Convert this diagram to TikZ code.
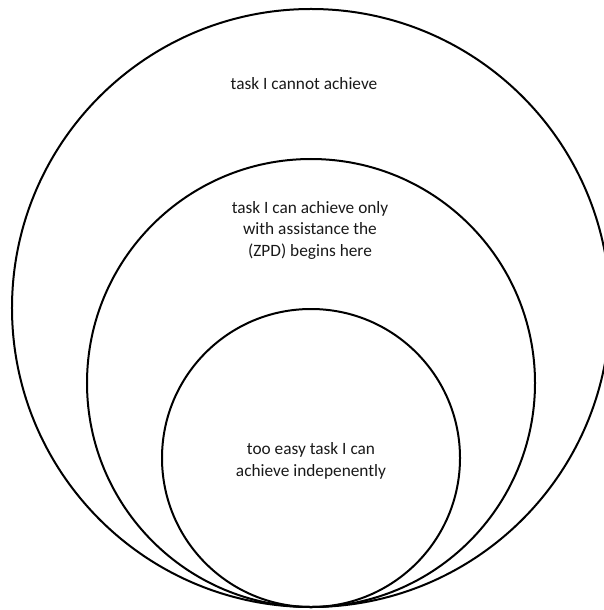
\documentclass[tikz,border=0pt]{standalone}
\usepackage{fontspec}
\setmainfont{Carlito}
\begin{document}
\begin{tikzpicture}[x=1bp,y=-1bp,
  ring/.style={circle,draw=black,line width=2bp,inner sep=0pt},
  lbl/.style={align=center,font=\fontsize{17.3bp}{21.5bp}\selectfont,text=black!90}]
\useasboundingbox (0,0) rectangle (604,610);
\clip (0,0) rectangle (604,610);
\node[ring,minimum size=598bp] (outer) at (311,308) {};
\node[ring,minimum size=448bp] (middle) at (311,383) {};
\node[ring,minimum size=298bp] (inner) at (311,458) {};
\node[lbl] (t1) at (304,84) {task I cannot achieve};
\node[lbl] (t2) at (310,230) {task I can achieve only\\with assistance the\\(ZPD) begins here};
\node[lbl] (t3) at (311,461) {too easy task I can\\achieve indepenently};
\end{tikzpicture}
\end{document}
